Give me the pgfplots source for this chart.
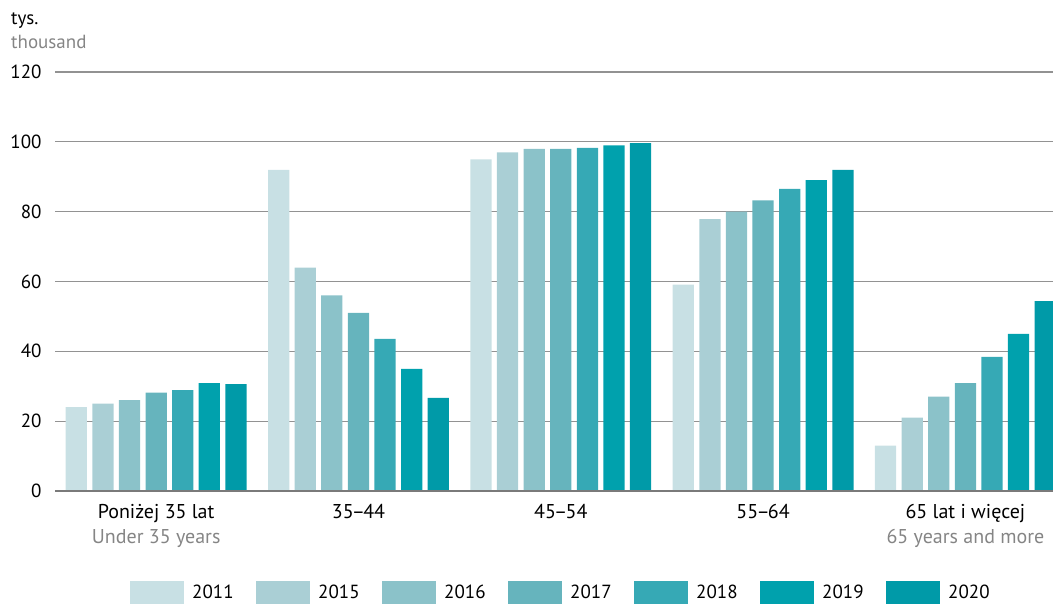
\documentclass[border=0pt]{standalone}
\usepackage{pgfplots}
\pgfplotsset{compat=1.18}
\usepackage{fontspec}
\setmainfont{PT Sans}
\definecolor{c11}{HTML}{C8E0E4}
\definecolor{c15}{HTML}{AACFD5}
\definecolor{c16}{HTML}{8BC2C9}
\definecolor{c17}{HTML}{66B4BD}
\definecolor{c18}{HTML}{36A9B5}
\definecolor{c19}{HTML}{00A1AD}
\definecolor{c20}{HTML}{009AA8}
\definecolor{gridc}{HTML}{929292}
\definecolor{zeroc}{HTML}{7A7A7A}
\definecolor{lab}{HTML}{858585}
\newcommand{\nd}{\kern-1.8pt–\kern-1.8pt}
\begin{document}
\fontsize{19}{24}\selectfont
\begin{tikzpicture}
\useasboundingbox (0pt,0pt) rectangle (1053pt,606pt);
\node[anchor=base west, inner sep=0pt] at (11pt,581pt) {tys.};
\node[anchor=base west, inner sep=0pt, text=lab] at (11pt,557pt) {thousand};
\begin{axis}[at={(55pt,115pt)}, anchor=south west, scale only axis,
  width=998pt, height=419pt,
  xmin=-0.5, xmax=4.433, ymin=0, ymax=120,
  ytick={0,20,...,120},
  xtick={0,1,2,3,4},
  xticklabels={{Poniżej 35 lat\\\textcolor{lab}{Under 35 years}},
               {35\nd44},{45\nd54},{55\nd64},
               {65 lat i więcej\\\textcolor{lab}{65 years and more}}},
  axis line style={draw=none},
  major tick length=0pt,
  ymajorgrids, grid style={gridc, line width=1.2pt},
  every tick label/.append style={font=\fontsize{19}{24}\selectfont},
  /pgf/number format/assume math mode=true,
  yticklabel style={xshift=-7pt},
  xticklabel style={align=center, yshift=-7pt, font=\fontsize{20}{24.5}\selectfont},
  ybar, bar width=0.105,
  every axis plot/.append style={draw=none},
  legend columns=7,
  legend style={draw=none, fill=none, inner sep=0pt, at={(0.0752,-0.2434)}, anchor=west,
    font=\fontsize{19}{24}\selectfont,
    nodes={inner sep=0pt, text width=44pt, align=left},
    /tikz/every odd column/.append style={column sep=8pt},
    /tikz/every even column/.append style={column sep=20pt}},
  legend image code/.code={\fill[#1] (0pt,-11.5pt) rectangle (54pt,11.5pt);},
]
\addplot[fill=c11, bar shift=-0.3945] coordinates {(0,24) (1,92) (2,95) (3,59.1) (4,13)};
\addplot[fill=c15, bar shift=-0.263] coordinates {(0,25) (1,64) (2,97) (3,77.9) (4,21)};
\addplot[fill=c16, bar shift=-0.1315] coordinates {(0,26) (1,56) (2,98) (3,80) (4,27)};
\addplot[fill=c17, bar shift=0] coordinates {(0,28.2) (1,51) (2,98) (3,83.2) (4,30.9)};
\addplot[fill=c18, bar shift=0.1315] coordinates {(0,28.9) (1,43.6) (2,98.3) (3,86.5) (4,38.4)};
\addplot[fill=c19, bar shift=0.263] coordinates {(0,30.9) (1,35) (2,99) (3,89) (4,45)};
\addplot[fill=c20, bar shift=0.3945] coordinates {(0,30.6) (1,26.7) (2,99.6) (3,92) (4,54.4)};
\legend{2011,2015,2016,2017,2018,2019,2020}
\draw[zeroc, line width=1.6pt] (rel axis cs:0,0) -- (rel axis cs:1,0);
\end{axis}
\end{tikzpicture}
\end{document}
